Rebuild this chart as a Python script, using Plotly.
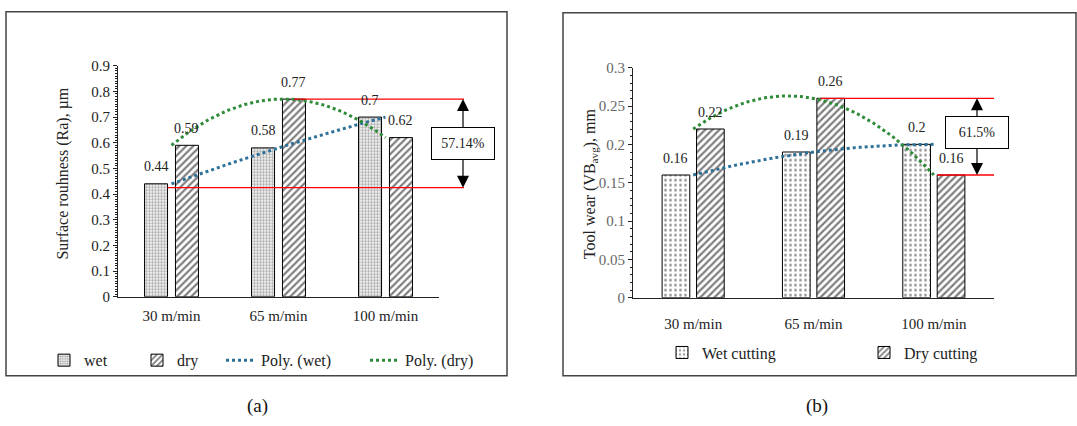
import numpy as np
import plotly.graph_objects as go

W, H = 1077, 426

# ---------------- data ----------------
speeds = ["30 m/min", "65 m/min", "100 m/min"]
ra_wet = [0.44, 0.58, 0.70]
ra_dry = [0.59, 0.77, 0.62]
vb_wet = [0.16, 0.19, 0.20]
vb_dry = [0.22, 0.26, 0.16]
ra_levels = [0.77, 0.425]      # red reference lines (a)
vb_levels = [0.26, 0.16]       # red reference lines (b)
ra_pct = "57.14%"
vb_pct = "61.5%"
ra_yticks = [0, 0.1, 0.2, 0.3, 0.4, 0.5, 0.6, 0.7, 0.8, 0.9]
vb_yticks = [0, 0.05, 0.1, 0.15, 0.2, 0.25, 0.3]
vb_yticktext = ["0", "0.05", "0.1", "0.15", "0.2", "0.25", "0.3"]

xi = np.arange(len(speeds))
FONT = "Liberation Serif"

def px(p):
    return p / W

def py(p):
    return 1 - p / H

dom_a = [px(118), px(439)]
dom_b = [px(633), px(994)]
ydom_a = [py(300), py(60)]
ydom_b = [py(301), py(62)]
xr = [-0.5, 2.5]

def data_to_paper(xv, dom):
    return dom[0] + (xv - xr[0]) / (xr[1] - xr[0]) * (dom[1] - dom[0])

# bar geometry (styles)
wa, oa_wet, oa_dry = 0.215, -0.252, 0.037
wb, ob_wet, ob_dry = 0.23, -0.258, 0.028

fig = go.Figure()

# ----- panel (a) -----
fig.add_trace(go.Bar(x=xi, y=ra_wet, width=wa, offset=oa_wet, name="wet",
                     marker=dict(color="white", line=dict(color="black", width=1),
                                 pattern=dict(shape=".", size=3, solidity=0.5, fgcolor="#555", bgcolor="white")),
                     xaxis="x", yaxis="y", legend="legend"))
fig.add_trace(go.Bar(x=xi, y=ra_dry, width=wa, offset=oa_dry, name="dry",
                     marker=dict(color="white", line=dict(color="black", width=1),
                                 pattern=dict(shape="/", size=5, solidity=0.45, fgcolor="black", bgcolor="white")),
                     xaxis="x", yaxis="y", legend="legend2"))

xx = np.linspace(0, 2, 80)
pw = np.polyval(np.polyfit(xi, ra_wet, 2), xx)
pd_ = np.polyval(np.polyfit(xi, ra_dry, 2), xx)
fig.add_trace(go.Scatter(x=xx, y=pw, mode="lines", name="Poly. (wet)",
                         line=dict(color="#2E7198", width=3, dash="3px,3px"),
                         xaxis="x", yaxis="y", legend="legend3"))
fig.add_trace(go.Scatter(x=xx, y=pd_, mode="lines", name="Poly. (dry)",
                         line=dict(color="#2E8B38", width=3, dash="3px,3px"),
                         xaxis="x", yaxis="y", legend="legend4"))

# ----- panel (b) -----
fig.add_trace(go.Bar(x=xi, y=vb_wet, width=wb, offset=ob_wet, name="Wet cutting",
                     marker=dict(color="white", line=dict(color="black", width=1),
                                 pattern=dict(shape=".", size=5, solidity=0.25, fgcolor="#333", bgcolor="white")),
                     xaxis="x2", yaxis="y2", legend="legend5"))
fig.add_trace(go.Bar(x=xi, y=vb_dry, width=wb, offset=ob_dry, name="Dry cutting",
                     marker=dict(color="white", line=dict(color="black", width=1),
                                 pattern=dict(shape="/", size=5, solidity=0.45, fgcolor="black", bgcolor="white")),
                     xaxis="x2", yaxis="y2", legend="legend6"))
qw = np.polyval(np.polyfit(xi, vb_wet, 2), xx)
qd = np.polyval(np.polyfit(xi, vb_dry, 2), xx)
fig.add_trace(go.Scatter(x=xx, y=qw, mode="lines", showlegend=False,
                         line=dict(color="#2E7198", width=3, dash="3px,3px"),
                         xaxis="x2", yaxis="y2"))
fig.add_trace(go.Scatter(x=xx, y=qd, mode="lines", showlegend=False,
                         line=dict(color="#2E8B38", width=3, dash="3px,3px"),
                         xaxis="x2", yaxis="y2"))

annotations = []
# data labels
for vals, off, w, xa, ya in [(ra_wet, oa_wet, wa, "x", "y"),
                             (ra_dry, oa_dry, wa, "x", "y"),
                             (vb_wet, ob_wet, wb, "x2", "y2"),
                             (vb_dry, ob_dry, wb, "x2", "y2")]:
    for i, v in enumerate(vals):
        annotations.append(dict(x=i + off + w / 2, y=v, xref=xa, yref=ya, text=f"{v:g}",
                                showarrow=False, yshift=17, xanchor="center", yanchor="middle",
                                font=dict(family=FONT, size=14, color="#222")))

shapes = []
# red lines (a)
shapes.append(dict(type="line", xref="paper", yref="y",
                   x0=data_to_paper(1 + oa_dry + wa / 2, dom_a), x1=px(464),
                   y0=ra_levels[0], y1=ra_levels[0], line=dict(color="red", width=1.3)))
shapes.append(dict(type="line", xref="paper", yref="y",
                   x0=data_to_paper(0 + oa_wet + wa, dom_a), x1=px(464),
                   y0=ra_levels[1], y1=ra_levels[1], line=dict(color="red", width=1.3)))
# red lines (b)
shapes.append(dict(type="line", xref="paper", yref="y2",
                   x0=data_to_paper(1 + ob_dry + 0.03, dom_b), x1=dom_b[1],
                   y0=vb_levels[0], y1=vb_levels[0], line=dict(color="red", width=1.3)))
shapes.append(dict(type="line", xref="paper", yref="y2",
                   x0=data_to_paper(2 + ob_dry, dom_b), x1=dom_b[1],
                   y0=vb_levels[1], y1=vb_levels[1], line=dict(color="red", width=1.3)))

# percentage boxes with arrows to both reference lines
for xp, lv, yr, txt, yoff in [(px(463), ra_levels, "y", ra_pct, 0.0),
                              (px(977), vb_levels, "y2", vb_pct, 0.006)]:
    mid = (lv[0] + lv[1]) / 2 + yoff
    for target in lv:
        annotations.append(dict(x=xp, y=target, xref="paper", yref=yr, ax=0, ay=mid,
                                axref="pixel", ayref=yr, text=txt, showarrow=True,
                                arrowhead=2, arrowsize=2, arrowwidth=1.2, arrowcolor="black",
                                standoff=0, bgcolor="white", bordercolor="black", borderwidth=1,
                                width=58, height=27, borderpad=2, xanchor="center", yanchor="middle",
                                font=dict(family=FONT, size=14, color="#222")))

# axis titles
annotations.append(dict(x=px(63), y=py(172), xref="paper", yref="paper", textangle=-90,
                        text="Surface rouhness (Ra), µm", showarrow=False,
                        xanchor="center", yanchor="middle",
                        font=dict(family=FONT, size=16, color="#222")))
annotations.append(dict(x=px(590), y=py(183), xref="paper", yref="paper", textangle=-90,
                        text="Tool wear (VB<sub>avg</sub>), mm", showarrow=False,
                        xanchor="center", yanchor="middle",
                        font=dict(family=FONT, size=16, color="#222")))
# captions
annotations.append(dict(x=px(257), y=py(414), xref="paper", yref="paper", text="(a)",
                        showarrow=False, xanchor="center", yanchor="middle",
                        font=dict(family=FONT, size=19, color="#111")))
annotations.append(dict(x=px(817), y=py(414), xref="paper", yref="paper", text="(b)",
                        showarrow=False, xanchor="center", yanchor="middle",
                        font=dict(family=FONT, size=19, color="#111")))

# panel borders
shapes.append(dict(type="rect", xref="paper", yref="paper", x0=px(6), x1=px(507),
                   y0=py(382), y1=py(4), line=dict(color="#444", width=1.5)))
shapes.append(dict(type="rect", xref="paper", yref="paper", x0=px(563), x1=px(1076),
                   y0=py(382), y1=py(5), line=dict(color="#444", width=1.5)))

def xaxis(dom, standoff):
    return dict(domain=dom, range=xr, tickvals=list(xi), ticktext=speeds, showline=True,
                linecolor="#222", linewidth=1, ticks="", showgrid=False, zeroline=False,
                ticklabelstandoff=standoff, tickfont=dict(family=FONT, size=15, color="#222"),
                fixedrange=True)

def yaxis(dom, rng, vals, text, dt, col):
    return dict(domain=dom, range=rng, tickvals=vals, ticktext=text, showline=True,
                linecolor="#222", linewidth=1, ticks="outside", ticklen=4, tickcolor="#222",
                minor=dict(dtick=dt, ticks="outside", ticklen=2.5, tickcolor="#222", showgrid=False),
                showgrid=False, zeroline=False, tickfont=dict(family=FONT, size=15, color=col),
                fixedrange=True)

def leg(xp, yp):
    return dict(x=px(xp), y=py(yp), xanchor="left", yanchor="middle", orientation="h",
                bgcolor="rgba(0,0,0,0)", font=dict(family=FONT, size=16, color="#222"),
                itemwidth=30)

fig.update_layout(
    width=W, height=H, margin=dict(l=0, r=0, t=0, b=0),
    paper_bgcolor="white", plot_bgcolor="white",
    barmode="overlay",
    xaxis=xaxis(dom_a, 5), yaxis=yaxis(ydom_a, [0, 0.9], ra_yticks, [f"{v:g}" for v in ra_yticks], 0.01, "#222"),
    xaxis2=dict(xaxis(dom_b, 12), anchor="y2"),
    yaxis2=dict(yaxis(ydom_b, [0, 0.3], vb_yticks, vb_yticktext, 0.01, "#666"), anchor="x2"),
    legend=leg(44, 366), legend2=leg(137, 366), legend3=leg(221, 366), legend4=leg(365, 366),
    legend5=leg(662, 358), legend6=leg(864, 358),
    shapes=shapes, annotations=annotations,
    font=dict(family=FONT),
)

fig.write_html("out.html")
